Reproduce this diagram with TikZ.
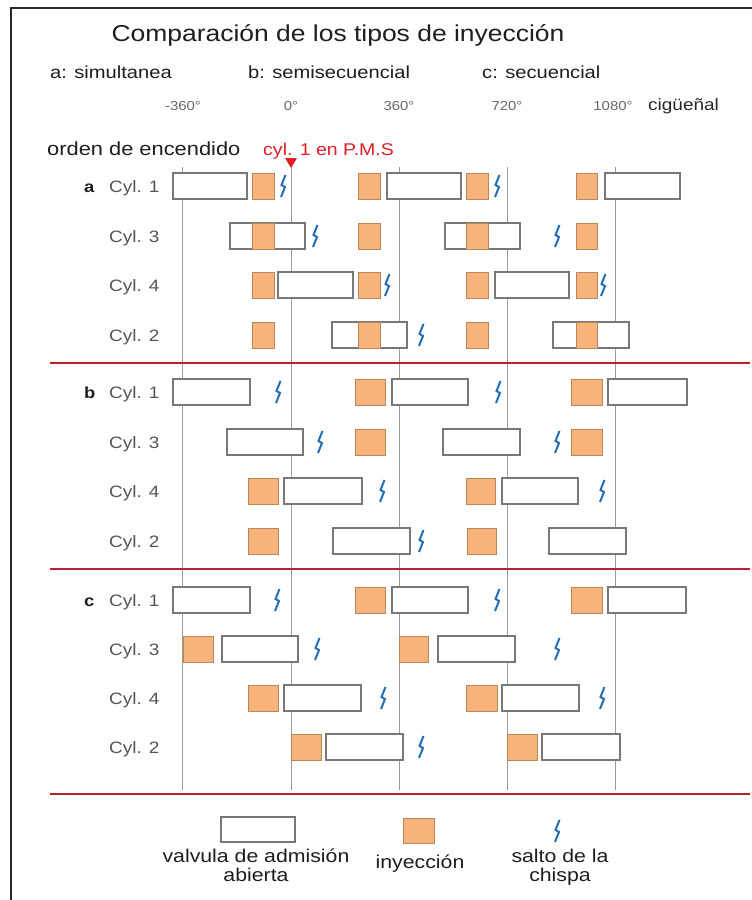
\documentclass[tikz,border=0pt]{standalone}
\usepackage{fontspec}
\setmainfont{Liberation Sans}[FakeStretch=1.15]
\definecolor{valvegray}{RGB}{120,120,120}
\definecolor{injfill}{RGB}{246,180,122}
\definecolor{injborder}{RGB}{185,135,90}
\definecolor{gridgray}{RGB}{155,155,155}
\definecolor{sepred}{RGB}{190,30,45}
\definecolor{sparkblue}{RGB}{35,110,180}
\definecolor{pmsred}{RGB}{225,30,40}
\definecolor{cylgray}{RGB}{85,85,85}
\definecolor{axgray}{RGB}{105,105,105}
\definecolor{framecol}{RGB}{40,40,40}
\definecolor{txt}{RGB}{30,30,30}
\newcommand\valv[3]{\draw[valvebox] (#1,#3-13) rectangle (#2,#3+13);}
\newcommand\injb[3]{\draw[injbox] (#1,#3-13) rectangle (#2,#3+13);}
\newcommand\spk[2]{\draw[sparkline] (#1+2.5,#2-11) -- (#1-1.5,#2-1) -- (#1+2,#2+1) -- (#1-2,#2+11);}
\begin{document}
\begin{tikzpicture}[x=1pt,y=-1pt,
  valvebox/.style={draw=valvegray, fill=white, line width=1.4pt},
  injbox/.style={draw=injborder, fill=injfill, line width=1pt},
  gridline/.style={draw=gridgray, line width=0.8pt},
  sepline/.style={draw=sepred, line width=1.8pt},
  sparkline/.style={draw=sparkblue, line width=2pt, line join=miter},
  cyl/.style={inner sep=0pt, anchor=base west, text=cylgray, font=\fontsize{16.5}{18}\selectfont},
  sect/.style={inner sep=0pt, anchor=base west, text=txt, font=\bfseries\fontsize{16}{18}\selectfont},
  axl/.style={inner sep=0pt, anchor=base, text=axgray, font=\fontsize{13}{15}\selectfont},
  hdr/.style={inner sep=0pt, anchor=base west, text=txt, font=\fontsize{17.5}{20}\selectfont},
  leg/.style={inner sep=0pt, anchor=base, text=txt, font=\fontsize{18.5}{20}\selectfont},
]
\useasboundingbox (0,0) rectangle (752,900);
\fill[white] (0,0) rectangle (752,900);
% frame
\draw[line width=2pt, framecol] (11,900) -- (11,8) -- (752,8);
% title and headers
\node[inner sep=0pt, anchor=base, text=txt, font=\fontsize{23}{26}\selectfont] (title) at (338,41.5) {Comparación de los tipos de inyección};
\node[hdr] (ta) at (50,78) {a: simultanea};
\node[hdr] (tb) at (248,78) {b: semisecuencial};
\node[hdr] (tc) at (482,78) {c: secuencial};
% axis labels
\node[axl] (d1) at (183,110) {-360°};
\node[axl] (d2) at (291,110) {0°};
\node[axl] (d3) at (399,110) {360°};
\node[axl] (d4) at (507,110) {720°};
\node[axl] (d5) at (613,110) {1080°};
\node[inner sep=0pt, anchor=base west, text=framecol, font=\fontsize{16.5}{18}\selectfont] (cig) at (648,110) {cigüeñal};
\node[inner sep=0pt, anchor=base west, text=txt, font=\fontsize{19}{20}\selectfont] (orden) at (47,155) {orden de encendido};
\node[inner sep=0pt, anchor=base west, text=pmsred, font=\fontsize{17}{20}\selectfont] (pms) at (263,155) {cyl. 1 en P.M.S};
\fill[pmsred] (285,158) -- (297,158) -- (291,168) -- cycle;
% grid lines
\foreach \gx in {182.5,291,399,507,615} {\draw[gridline] (\gx,167) -- (\gx,790);}
% separators
\draw[sepline] (50,363) -- (750,363);
\draw[sepline] (50,569) -- (750,569);
\draw[sepline] (50,794) -- (750,794);
% row labels
\node[sect] (la) at (84,192) {a};
\node[sect] (lb) at (84,398) {b};
\node[sect] (lc) at (84,606) {c};
\foreach \yy/\tx/\nm in {186/1/a1,236/3/a3,285/4/a4,335/2/a2,392/1/b1,442/3/b3,491/4/b4,541/2/b2,600/1/c1,649/3/c3,698/4/c4,747/2/c2}
  {\node[cyl] (cyl\nm) at (109,\yy+6) {Cyl. \tx};}
% ---- section a
\valv{173}{247}{186} \injb{252}{274}{186} \spk{283}{186} \injb{358}{380}{186} \valv{387}{461}{186} \injb{466}{488}{186} \spk{497}{186} \injb{576}{597}{186} \valv{605}{680}{186}
\valv{230}{305}{236} \injb{252}{274}{236} \spk{315}{236} \injb{358}{380}{236} \valv{445}{520}{236} \injb{466}{488}{236} \spk{557}{236} \injb{576}{597}{236}
\injb{252}{274}{285} \valv{278}{353}{285} \injb{358}{380}{285} \spk{387}{285} \injb{466}{488}{285} \valv{495}{569}{285} \injb{576}{597}{285} \spk{603}{285}
\injb{252}{274}{335} \valv{332}{407}{335} \injb{358}{380}{335} \spk{421}{335} \injb{466}{488}{335} \valv{553}{629}{335} \injb{576}{597}{335}
% ---- section b
\valv{173}{250}{392} \spk{278}{392} \injb{355}{385}{392} \valv{392}{468}{392} \spk{498}{392} \injb{571}{602}{392} \valv{608}{687}{392}
\valv{227}{303}{442} \spk{320}{442} \injb{355}{385}{442} \valv{443}{520}{442} \spk{557}{442} \injb{571}{602}{442}
\injb{248}{278}{491} \valv{284}{362}{491} \spk{382}{491} \injb{466}{495}{491} \valv{502}{578}{491} \spk{602}{491}
\injb{248}{278}{541} \valv{333}{410}{541} \spk{421}{541} \injb{467}{496}{541} \valv{549}{626}{541}
% ---- section c
\valv{173}{250}{600} \spk{277}{600} \injb{355}{385}{600} \valv{392}{468}{600} \spk{497}{600} \injb{571}{602}{600} \valv{608}{686}{600}
\injb{183}{213}{649} \valv{222}{298}{649} \spk{317}{649} \injb{399}{428}{649} \valv{438}{515}{649} \spk{557}{649}
\injb{248}{278}{698} \valv{284}{361}{698} \spk{383}{698} \injb{466}{497}{698} \valv{502}{579}{698} \spk{602}{698}
\injb{291}{321}{747} \valv{326}{403}{747} \spk{421}{747} \injb{507}{537}{747} \valv{542}{620}{747}
% ---- legend
\draw[valvebox] (221,817) rectangle (295,842);
\draw[injbox] (403,818) rectangle (434,843);
\spk{557}{831}
\node[leg] (lv1) at (256,862) {valvula de admisión};
\node[leg] (lv2) at (256,881) {abierta};
\node[leg] (li) at (420,868) {inyección};
\node[leg] (ls1) at (560,862) {salto de la};
\node[leg] (ls2) at (560,881) {chispa};
\end{tikzpicture}
\end{document}
